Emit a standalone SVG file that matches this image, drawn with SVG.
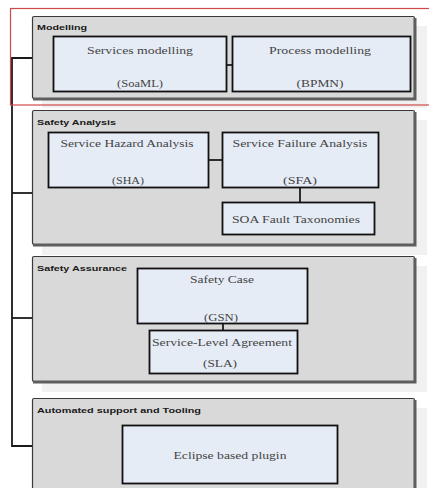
<svg xmlns="http://www.w3.org/2000/svg" width="429" height="488" viewBox="0 0 429 488">
  <style>
    .shadow { fill: #f1f1f1; }
    .panel { fill: #d9d9d9; stroke: #3a3a3a; stroke-width: 1.2; }
    .edge { fill: none; stroke: #5e5e5e; stroke-width: 3; }
    .box { fill: #e6ecf6; stroke: #111; stroke-width: 1.8; }
    .title { font-family: "Liberation Sans", Arial, sans-serif; font-weight: bold; font-size: 8px; fill: #1a1a1a; }
    .label { font-family: "Liberation Serif", "Times New Roman", serif; font-size: 10.5px; fill: #444; text-anchor: middle; }
    .wire { fill: none; stroke: #1a1a1a; stroke-width: 1.8; }
    .highlight { fill: none; stroke: #d04848; stroke-width: 1.2; }
  </style>

  <rect width="429" height="488" fill="#ffffff"/>

  <!-- Modelling -->
  <g id="modelling">
    <rect class="shadow" x="42" y="26" width="385" height="82"/>
    <rect class="panel" x="32.5" y="16.5" width="382" height="82" rx="1.5"/>
    <polyline class="edge" points="415,18 415,99 33,99"/>
    <text class="title" x="37" y="30" textLength="50" lengthAdjust="spacingAndGlyphs">Modelling</text>
  </g>
  <g id="services-modelling">
    <rect class="box" x="53.5" y="36.5" width="173" height="55"/>
    <text class="label" x="140" y="54" textLength="106" lengthAdjust="spacingAndGlyphs">Services modelling</text>
    <text class="label" x="140" y="87" textLength="46" lengthAdjust="spacingAndGlyphs">(SoaML)</text>
  </g>
  <g id="process-modelling">
    <rect class="box" x="232.5" y="36.5" width="178" height="55"/>
    <text class="label" x="320" y="54" textLength="102" lengthAdjust="spacingAndGlyphs">Process modelling</text>
    <text class="label" x="320" y="87" textLength="47" lengthAdjust="spacingAndGlyphs">(BPMN)</text>
  </g>

  <!-- Safety Analysis -->
  <g id="safety-analysis">
    <rect class="shadow" x="42" y="120" width="385" height="135"/>
    <rect class="panel" x="32.5" y="110.5" width="382" height="134" rx="1.5"/>
    <polyline class="edge" points="415,112 415,245 33,245"/>
    <text class="title" x="37" y="125" textLength="79" lengthAdjust="spacingAndGlyphs">Safety Analysis</text>
  </g>
  <g id="sha">
    <rect class="box" x="48.5" y="132.5" width="160" height="55"/>
    <text class="label" x="127" y="147" textLength="133" lengthAdjust="spacingAndGlyphs">Service Hazard Analysis</text>
    <text class="label" x="128" y="184" textLength="32" lengthAdjust="spacingAndGlyphs">(SHA)</text>
  </g>
  <g id="sfa">
    <rect class="box" x="222.5" y="132.5" width="156" height="55"/>
    <text class="label" x="300" y="147" textLength="135" lengthAdjust="spacingAndGlyphs">Service Failure Analysis</text>
    <text class="label" x="300" y="184" textLength="34" lengthAdjust="spacingAndGlyphs">(SFA)</text>
  </g>
  <g id="soa-fault-taxonomies">
    <rect class="box" x="222.5" y="202.5" width="152" height="32"/>
    <text class="label" x="296" y="223" textLength="128" lengthAdjust="spacingAndGlyphs">SOA Fault Taxonomies</text>
  </g>

  <!-- Safety Assurance -->
  <g id="safety-assurance">
    <rect class="shadow" x="42" y="266" width="385" height="126"/>
    <rect class="panel" x="32.5" y="256.5" width="382" height="125" rx="1.5"/>
    <polyline class="edge" points="415,258 415,382 33,382"/>
    <text class="title" x="37" y="271" textLength="90" lengthAdjust="spacingAndGlyphs">Safety Assurance</text>
  </g>
  <g id="safety-case">
    <rect class="box" x="137.5" y="268.5" width="170" height="55"/>
    <text class="label" x="222" y="283" textLength="64" lengthAdjust="spacingAndGlyphs">Safety Case</text>
    <text class="label" x="221" y="321" textLength="34" lengthAdjust="spacingAndGlyphs">(GSN)</text>
  </g>
  <g id="sla">
    <rect class="box" x="149.5" y="330.5" width="148" height="43"/>
    <text class="label" x="222" y="346" textLength="140" lengthAdjust="spacingAndGlyphs">Service-Level Agreement</text>
    <text class="label" x="220" y="367" textLength="34" lengthAdjust="spacingAndGlyphs">(SLA)</text>
  </g>

  <!-- Automated support and Tooling -->
  <g id="tooling">
    <rect class="shadow" x="42" y="408" width="385" height="90"/>
    <rect class="panel" x="32.5" y="398.5" width="382" height="100" rx="1.5"/>
    <line class="edge" x1="415" y1="400" x2="415" y2="488"/>
    <text class="title" x="37" y="413" textLength="164" lengthAdjust="spacingAndGlyphs">Automated support and Tooling</text>
  </g>
  <g id="eclipse-plugin">
    <rect class="box" x="122.5" y="425.5" width="215" height="58"/>
    <text class="label" x="230" y="459" textLength="113" lengthAdjust="spacingAndGlyphs">Eclipse based plugin</text>
  </g>

  <!-- Connectors -->
  <g id="connectors">
    <polyline class="wire" points="32,58 12,58 12,446 32,446"/>
    <line class="wire" x1="12" y1="193" x2="32" y2="193"/>
    <line class="wire" x1="12" y1="318" x2="32" y2="318"/>
    <line class="wire" x1="227" y1="65" x2="232" y2="65"/>
    <line class="wire" x1="209" y1="160" x2="222" y2="160"/>
    <line class="wire" x1="300" y1="188" x2="300" y2="202"/>
    <line class="wire" x1="223" y1="324" x2="223" y2="330"/>
  </g>

  <!-- Highlight frame around the modelling layer -->
  <rect class="highlight" x="10.5" y="8.5" width="425" height="96.5"/>
</svg>
